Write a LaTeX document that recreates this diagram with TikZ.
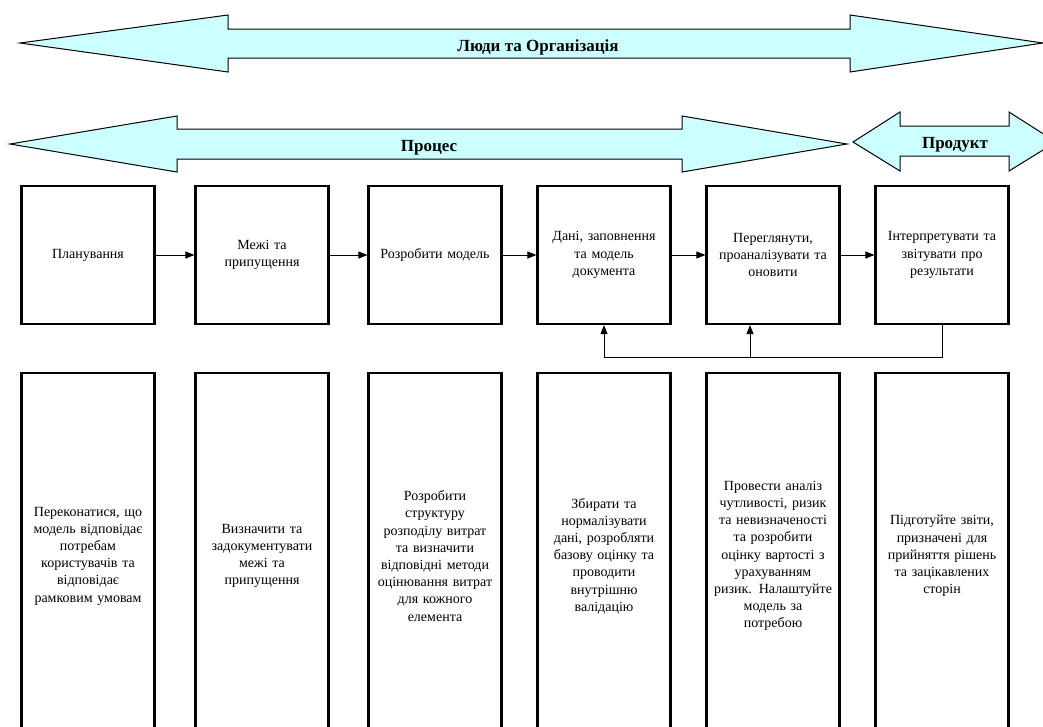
\documentclass[tikz,border=0pt]{standalone}
\usepackage{fontspec}
\setmainfont{Liberation Serif}
\usetikzlibrary{arrows.meta}
\definecolor{bandfill}{HTML}{CCFFFF}
\begin{document}
\begin{tikzpicture}[x=1pt,y=-1pt,
  band/.style={draw=black, line width=1pt, fill=bandfill, line join=miter},
  bandlabel/.style={font=\fontsize{17}{20}\selectfont\bfseries, inner sep=0pt, anchor=base},
  bodytext/.style={font=\fontsize{14}{17.2}\selectfont, text width=130pt, align=center, inner sep=0pt},
  stepbox/.style={bodytext, draw, line width=2.2pt, minimum width=133pt, minimum height=138pt},
  notebox/.style={bodytext, draw, line width=2.2pt, minimum width=133pt, minimum height=366pt},
  link/.style={line width=1pt, -{Triangle[length=9pt,width=7pt]}}
]
\clip (0,0) rectangle (1043,726);

% wide double arrows
\draw[band] (20,43) -- (228,15) -- (228,29) -- (850,29) -- (850,15) -- (1043,43)
  -- (850,72) -- (850,58) -- (228,58) -- (228,72) -- cycle;
\node[bandlabel] (people) at (538,51) {Люди та Організація};

\draw[band] (10,144) -- (177,116) -- (177,129) -- (682,129) -- (682,116) -- (847,144)
  -- (682,172) -- (682,159) -- (177,159) -- (177,172) -- cycle;
\node[bandlabel] (process) at (429,151) {Процес};

\draw[band] (853,142) -- (900,112) -- (900,126) -- (1009,126) -- (1009,112) -- (1056,142)
  -- (1009,171) -- (1009,156) -- (900,156) -- (900,171) -- cycle;
\node[bandlabel] (product) at (955,148) {Продукт};

% process steps
\node[stepbox] (p1) at (88,255)  {Планування};
\node[stepbox] (p2) at (262,255) {Межі та\\припущення};
\node[stepbox] (p3) at (435,255) {Розробити модель};
\node[stepbox] (p4) at (604,255) {Дані, заповнення\\та модель\\документа};
\node[stepbox] (p5) at (773,255) {Переглянути,\\проаналізувати та\\оновити};
\node[stepbox] (p6) at (942,255) {Інтерпретувати та\\звітувати про\\результати};

\draw[link] (p1) -- (p2);
\draw[link] (p2) -- (p3);
\draw[link] (p3) -- (p4);
\draw[link] (p4) -- (p5);
\draw[link] (p5) -- (p6);

% feedback loop
\coordinate (fb) at (750,357);
\draw[link] (p6.south) -- (p6.south |- fb) -| (p4.south);
\draw[link] (fb) -- (fb |- p5.south);

% step descriptions
\node[notebox] (d1) at (88,556)  {Переконатися, що\\модель відповідає\\потребам\\користувачів та\\відповідає\\рамковим умовам};
\node[notebox] (d2) at (262,556) {Визначити та\\задокументувати\\межі та\\припущення};
\node[notebox] (d3) at (435,556) {Розробити\\структуру\\розподілу витрат\\та визначити\\відповідні методи\\оцінювання витрат\\для кожного\\елемента};
\node[notebox] (d4) at (604,556) {Збирати та\\нормалізувати\\дані, розробляти\\базову оцінку та\\проводити\\внутрішню\\валідацію};
\node[notebox] (d5) at (773,556) {Провести аналіз\\чутливості, ризик\\та невизначеності\\та розробити\\оцінку вартості з\\урахуванням\\ризик. Налаштуйте\\модель за\\потребою};
\node[notebox] (d6) at (942,556) {Підготуйте звіти,\\призначені для\\прийняття рішень\\та зацікавлених\\сторін};
\end{tikzpicture}
\end{document}
